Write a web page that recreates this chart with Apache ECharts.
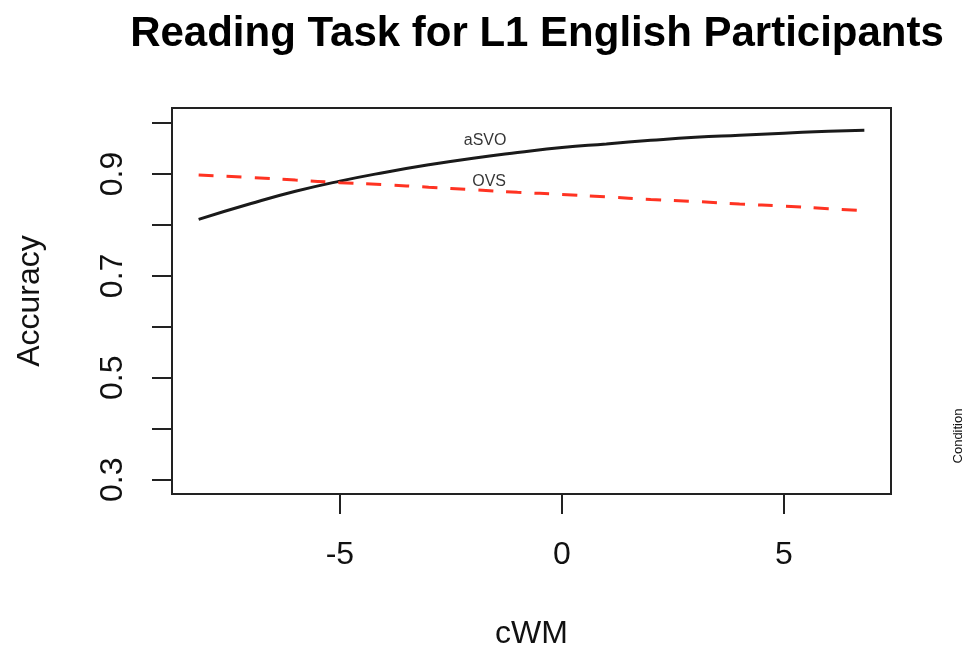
<!DOCTYPE html>
<html>
<head>
<meta charset="utf-8">
<script src="https://cdn.jsdelivr.net/npm/echarts@6/dist/echarts.min.js"></script>
<style>
html,body{margin:0;padding:0;background:#fff;}
#chart{width:971px;height:652px;}
</style>
</head>
<body>
<div id="chart"></div>
<script>
// ---- data ----
const cwm = [-8.18, -7, -6, -5, -4, -3, -2, -1, 0, 1, 2, 3, 4, 5, 6, 6.81];
const aSVO = [0.811, 0.842, 0.866, 0.886, 0.903, 0.918, 0.931, 0.942, 0.952, 0.959, 0.966, 0.972, 0.976, 0.980, 0.984, 0.986];
const OVS  = [0.898, 0.893, 0.888, 0.883, 0.879, 0.874, 0.869, 0.864, 0.860, 0.855, 0.850, 0.846, 0.841, 0.837, 0.832, 0.828];
const lineLabels = ['aSVO', 'OVS'];
const lineLabelX = [-1.73, -1.64];
const lineLabelY = [0.965, 0.886];
const yTicks = [0.3, 0.4, 0.5, 0.6, 0.7, 0.8, 0.9, 1.0];
const yTickLabels = [0.3, 0.5, 0.7, 0.9];
const xTicks = [-5, 0, 5];

const chart = echarts.init(document.getElementById('chart'), null, {renderer: 'canvas'});
const font = 'Liberation Sans, Arial, sans-serif';

const option = {
  backgroundColor: '#ffffff',
  animation: false,
  title: {
    text: 'Reading Task for L1 English Participants',
    left: 532,
    top: 8,
    textAlign: 'center',
    textStyle: {fontFamily: font, fontSize: 42, fontWeight: 'bold', color: '#000'}
  },
  grid: {
    left: 172, right: 80, top: 108, bottom: 158,
    outerBoundsMode: 'none',
    containLabel: false,
    show: true, borderColor: '#222', borderWidth: 2, backgroundColor: 'transparent'
  },
  xAxis: {
    type: 'value',
    min: -8.78, max: 7.41,
    name: 'cWM',
    nameLocation: 'middle',
    nameGap: 124,
    nameTextStyle: {fontFamily: font, fontSize: 32, color: '#111'},
    axisLine: {show: false, onZero: false},
    splitLine: {show: false},
    axisTick: {show: true, length: 20, lineStyle: {color: '#222', width: 2}, customValues: xTicks},
    axisLabel: {show: true, margin: 45, fontFamily: font, fontSize: 32, color: '#111', customValues: xTicks,
      showMinLabel: true, showMaxLabel: true}
  },
  yAxis: {
    type: 'value',
    min: 0.272, max: 1.0295,
    name: 'Accuracy',
    nameLocation: 'middle',
    nameRotate: 90,
    nameGap: 126,
    nameTextStyle: {fontFamily: font, fontSize: 32, color: '#111'},
    axisLine: {show: false, onZero: false},
    splitLine: {show: false},
    axisTick: {show: true, length: 20, lineStyle: {color: '#222', width: 2}, customValues: yTicks},
    axisLabel: {show: true, rotate: 90, margin: 43, fontFamily: font, fontSize: 32, color: '#111',
      customValues: yTickLabels, formatter: v => v.toFixed(1)}
  },
  graphic: [{
    type: 'text',
    x: 958, y: 436,
    rotation: Math.PI / 2,
    style: {text: 'Condition', font: '13px ' + font, fill: '#111', align: 'center', verticalAlign: 'middle'}
  }],
  series: [
    {
      type: 'line', name: 'aSVO',
      data: cwm.map((x, i) => [x, aSVO[i]]),
      smooth: true, showSymbol: false,
      lineStyle: {color: '#1a1a1a', width: 3}
    },
    {
      type: 'line', name: 'OVS',
      data: cwm.map((x, i) => [x, OVS[i]]),
      smooth: true, showSymbol: false,
      lineStyle: {color: '#ff3322', width: 3, type: [15, 13]}
    },
    {
      type: 'scatter',
      symbolSize: 0,
      data: lineLabels.map((t, i) => ({value: [lineLabelX[i], lineLabelY[i]], name: t})),
      label: {show: true, position: 'inside', formatter: p => p.name,
        fontFamily: font, fontSize: 16, color: '#000'},
      silent: true
    }
  ]
};
chart.setOption(option);
</script>
</body>
</html>
